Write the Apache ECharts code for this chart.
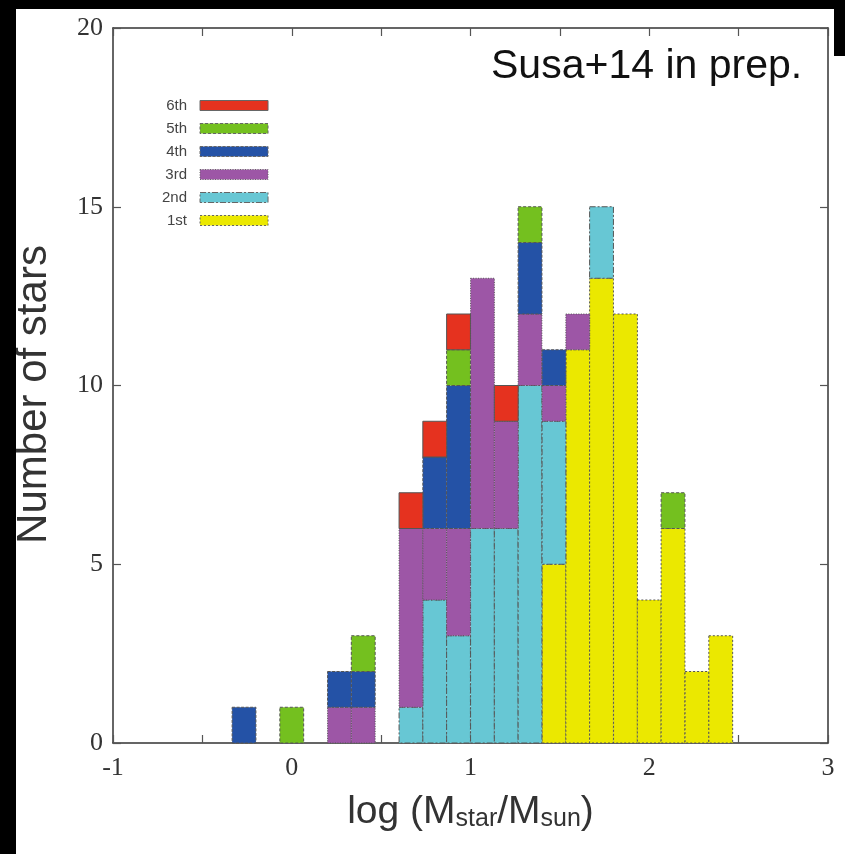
<!DOCTYPE html>
<html>
<head>
<meta charset="utf-8">
<script src="https://cdn.jsdelivr.net/npm/echarts@6/dist/echarts.min.js"></script>
<style>
html,body{margin:0;padding:0;background:#fff;}
#chart{width:845px;height:854px;}
</style>
</head>
<body>
<div id="chart"></div>
<script>
// ---- data ----
var binCenters = [-0.267, -0.133, 0, 0.133, 0.267, 0.4, 0.533, 0.667, 0.8, 0.933, 1.067, 1.2, 1.333, 1.467, 1.6, 1.733, 1.867, 2.0, 2.133, 2.267, 2.4];
var binWidth = 0.1333;
var gen1 = [0,0,0,0,0,0,0, 0,0,0,0,0,0, 5,11,13,12,4,6,2,3];
var gen2 = [0,0,0,0,0,0,0, 1,4,3,6,6,10, 4,0,2,0,0,0,0,0];
var gen3 = [0,0,0,0,1,1,0, 5,2,3,7,3,2, 1,1,0,0,0,0,0,0];
var gen4 = [1,0,0,0,1,1,0, 0,2,4,0,0,2, 1,0,0,0,0,0,0,0];
var gen5 = [0,0,1,0,0,1,0, 0,0,1,0,0,1, 0,0,0,0,0,1,0,0];
var gen6 = [0,0,0,0,0,0,0, 1,1,1,0,1,0, 0,0,0,0,0,0,0,0];
var seriesNames = ['1st', '2nd', '3rd', '4th', '5th', '6th'];
var xTicks = [-1, 0, 1, 2, 3];
var yTicks = [0, 5, 10, 15, 20];

// ---- styles ----
var colors = ['#ebe800', '#67c7d4', '#9d56a6', '#2452a6', '#74c01f', '#e5321f'];
var dashes = [[2, 2], [6, 2, 2, 2], [1, 1.5], [3, 1.5], [3, 2], 'solid'];
var allGens = [gen1, gen2, gen3, gen4, gen5, gen6];

// build stacked rectangles
var base = binCenters.map(function () { return 0; });
var series = [];
allGens.forEach(function (vals, s) {
  var data = [];
  vals.forEach(function (v, i) {
    if (v > 0) {
      data.push([binCenters[i] - binWidth / 2, binCenters[i] + binWidth / 2, base[i], base[i] + v]);
    }
    base[i] += v;
  });
  series.push({
    name: seriesNames[s],
    type: 'custom',
    xAxisIndex: 0,
    yAxisIndex: 0,
    itemStyle: { color: colors[s], borderColor: '#555', borderWidth: 1, borderType: dashes[s] },
    renderItem: (function (s) {
      return function (params, api) {
        var p0 = api.coord([api.value(0), api.value(3)]);
        var p1 = api.coord([api.value(1), api.value(2)]);
        return {
          type: 'rect',
          shape: { x: p0[0], y: p0[1], width: p1[0] - p0[0], height: p1[1] - p0[1] },
          style: { fill: colors[s], stroke: '#555', lineWidth: 1, lineDash: dashes[s] === 'solid' ? null : dashes[s] }
        };
      };
    })(s),
    encode: { x: [0, 1], y: [2, 3] },
    data: data
  });
});

var serifFont = '"Liberation Serif", "Times New Roman", serif';
var sansFont = '"Liberation Sans", Arial, sans-serif';

function axisCommon(showLabel) {
  return {
    axisLine: { show: true, onZero: false, lineStyle: { color: '#333', width: 1.5 } },
    axisTick: { show: true, inside: true, length: 8, lineStyle: { color: '#555', width: 1.2 } },
    splitLine: { show: false },
    axisLabel: { show: showLabel }
  };
}

var xb = axisCommon(true);
xb.type = 'value'; xb.min = -1; xb.max = 3; xb.interval = 0.5; xb.position = 'bottom';
xb.axisLabel = {
  show: true, margin: 12, color: '#333', fontFamily: serifFont, fontSize: 26,
  formatter: function (v) { return xTicks.indexOf(v) >= 0 ? String(v) : ''; }
};
xb.name = '{a|log (M}{b|star}{a|/M}{b|sun}{a|)}';
xb.nameLocation = 'middle';
xb.nameGap = 43;
xb.nameTextStyle = {
  rich: {
    a: { fontFamily: sansFont, fontSize: 39, lineHeight: 46, color: '#333', verticalAlign: 'bottom' },
    b: { fontFamily: sansFont, fontSize: 25, lineHeight: 24, color: '#333', verticalAlign: 'bottom' }
  }
};
var xt = axisCommon(false);
xt.type = 'value'; xt.min = -1; xt.max = 3; xt.interval = 0.5; xt.position = 'top';

var yl = axisCommon(true);
yl.type = 'value'; yl.min = 0; yl.max = 20; yl.interval = 5; yl.position = 'left';
yl.axisLabel = {
  show: true, margin: 10, color: '#333', fontFamily: serifFont, fontSize: 26,
  formatter: function (v) { return yTicks.indexOf(v) >= 0 ? String(v) : ''; }
};
yl.name = 'Number of stars';
yl.nameLocation = 'middle';
yl.nameGap = 58;
yl.nameTextStyle = { fontFamily: sansFont, fontSize: 42, color: '#333', padding: [0, 18, 0, 0] };
var yr = axisCommon(false);
yr.type = 'value'; yr.min = 0; yr.max = 20; yr.interval = 5; yr.position = 'right';

var legendOrder = ['6th', '5th', '4th', '3rd', '2nd', '1st'];
var legendData = legendOrder.map(function (n) {
  var s = seriesNames.indexOf(n);
  return {
    name: n,
    itemStyle: { color: colors[s], borderColor: '#666', borderWidth: 1, borderType: dashes[s] === 'solid' ? 'solid' : dashes[s] }
  };
});

var chart = echarts.init(document.getElementById('chart'), null, { renderer: 'canvas' });
chart.setOption({
  animation: false,
  backgroundColor: '#ffffff',
  grid: { left: 113, right: 17, top: 28, bottom: 111, containLabel: false },
  xAxis: [xb, xt],
  yAxis: [yl, yr],
  legend: {
    orient: 'vertical',
    left: 157,
    top: 93,
    align: 'right',
    itemWidth: 68,
    itemHeight: 10,
    itemGap: 8,
    icon: 'rect',
    selectedMode: false,
    formatter: function (n) { return '{t|' + n + '}'; },
    textStyle: {
      color: '#444',
      rich: { t: { fontFamily: sansFont, fontSize: 15, width: 40, align: 'right', padding: [0, 8, 0, 0], color: '#444' } }
    },
    data: legendData
  },
  title: {
    text: 'Susa+14 in prep.',
    left: 491,
    top: 46,
    padding: 0,
    textStyle: { fontFamily: sansFont, fontSize: 41, fontWeight: 'normal', color: '#111' }
  },
  graphic: [
    { type: 'rect', left: 0, top: 0, shape: { width: 845, height: 9 }, style: { fill: '#000' }, z: 100 },
    { type: 'rect', left: 0, top: 0, shape: { width: 16, height: 854 }, style: { fill: '#000' }, z: 100 },
    { type: 'rect', left: 834, top: 0, shape: { width: 11, height: 56 }, style: { fill: '#000' }, z: 100 }
  ],
  series: series
});
</script>
</body>
</html>
